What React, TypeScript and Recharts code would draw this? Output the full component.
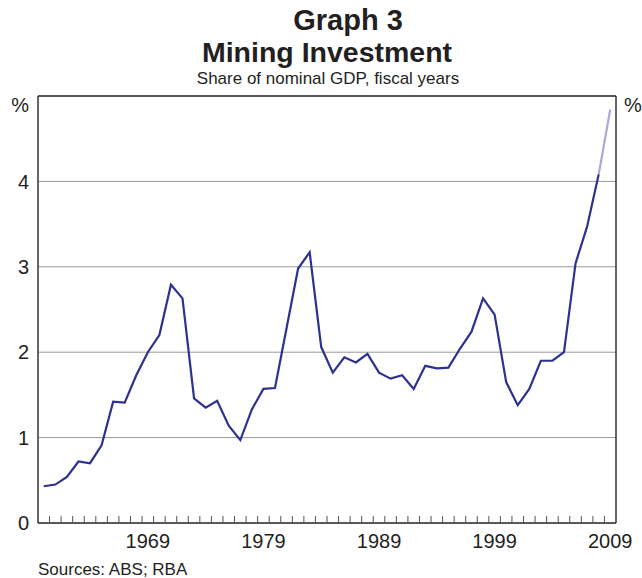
import { LineChart, Line, XAxis, YAxis, CartesianGrid, ReferenceLine } from 'recharts';

// Mining investment, share of nominal GDP (%), fiscal years 1960-2009
const firstYear = 1960;
const share = [
  0.43, 0.45, 0.54, 0.72, 0.70, 0.91, 1.42, 1.41, 1.73, 2.00,
  2.20, 2.79, 2.63, 1.46, 1.35, 1.43, 1.14, 0.97, 1.33, 1.57,
  1.58, 2.28, 2.98, 3.17, 2.06, 1.76, 1.94, 1.88, 1.98, 1.76,
  1.69, 1.73, 1.57, 1.84, 1.81, 1.82, 2.04, 2.24, 2.63, 2.44,
  1.65, 1.38, 1.57, 1.90, 1.90, 2.00, 3.04, 3.47, 4.08, 4.84,
];
// last year is an estimate, drawn in a lighter colour
const estimateFrom = 2008;
const yearLabels = [1969, 1979, 1989, 1999, 2009];
const yTicks = [0, 1, 2, 3, 4];

const years = share.map((_, i) => firstYear + i);
const data = years.map((year, i) => ({
  year,
  actual: year <= estimateFrom ? share[i] : null,
  estimate: year >= estimateFrom ? share[i] : null,
}));

const lastYear = years[years.length - 1];
const boundaries = years.slice(1).map(y => y - 0.5);
const xTicks = [...boundaries, ...yearLabels];

const FONT = '"Liberation Sans", Arial, Helvetica, sans-serif';
const INK = '#231f20';

const XTick = (props: any) => {
  const { x, y, payload } = props;
  if (yearLabels.includes(payload.value)) {
    return (
      <text x={x} y={y + 25} textAnchor="middle" fontSize={20} fontFamily={FONT} fill={INK}>
        {payload.value}
      </text>
    );
  }
  return <line x1={x} x2={x} y1={y} y2={y - 7} stroke="#555" strokeWidth={1} />;
};

export default function App() {
  return (
    <div style={{ position: 'relative', width: 642, height: 578, background: '#fff' }}>
      <style>{`body{margin:0}`}</style>
      <LineChart width={642} height={578} data={data} margin={{ top: 96, right: 0, bottom: 0, left: 8 }}>
        <CartesianGrid vertical={false} yAxisId="left" stroke="#999" strokeWidth={1} />
        <XAxis
          dataKey="year"
          type="number"
          domain={[firstYear - 0.5, lastYear + 0.5]}
          ticks={xTicks}
          interval={0}
          tick={<XTick />}
          tickLine={false}
          tickSize={0}
          tickMargin={0}
          height={55}
          axisLine={{ stroke: '#333', strokeWidth: 1.5 }}
        />
        <YAxis
          yAxisId="left"
          orientation="left"
          width={30}
          domain={[0, 5]}
          ticks={yTicks}
          interval={0}
          tickLine={false}
          tickSize={0}
          tickMargin={9}
          tick={{ fontSize: 20, fontFamily: FONT, fill: INK }}
          axisLine={{ stroke: '#333', strokeWidth: 1.5 }}
        />
        <YAxis
          yAxisId="right"
          orientation="right"
          width={26}
          domain={[0, 5]}
          ticks={yTicks}
          interval={0}
          tickLine={false}
          tickSize={0}
          tickMargin={8}
          tick={{ fontSize: 20, fontFamily: FONT, fill: INK, textAnchor: 'start' }}
          axisLine={{ stroke: '#333', strokeWidth: 1.5 }}
        />
        <ReferenceLine yAxisId="left" y={5} stroke="#333" strokeWidth={1.5} />
        <Line
          yAxisId="left"
          type="linear"
          dataKey="estimate"
          stroke="#a9a8d6"
          strokeWidth={2.2}
          dot={false}
          connectNulls={false}
          isAnimationActive={false}
        />
        <Line
          yAxisId="left"
          type="linear"
          dataKey="actual"
          stroke="#2e3192"
          strokeWidth={2.2}
          dot={false}
          connectNulls={false}
          isAnimationActive={false}
        />
      </LineChart>
      <svg width={642} height={578} style={{ position: 'absolute', left: 0, top: 0, pointerEvents: 'none' }}>
        <g fontFamily={FONT} fill={INK}>
          <text x={348} y={30} textAnchor="middle" fontSize={29} fontWeight="bold">Graph 3</text>
          <text x={327} y={62} textAnchor="middle" fontSize={28.5} fontWeight="bold">Mining Investment</text>
          <text x={328} y={84} textAnchor="middle" fontSize={17}>Share of nominal GDP, fiscal years</text>
          <text x={29} y={112} textAnchor="end" fontSize={20}>%</text>
          <text x={624} y={112} textAnchor="start" fontSize={20}>%</text>
          <text x={38} y={575} fontSize={17}>Sources: ABS; RBA</text>
        </g>
      </svg>
    </div>
  );
}
